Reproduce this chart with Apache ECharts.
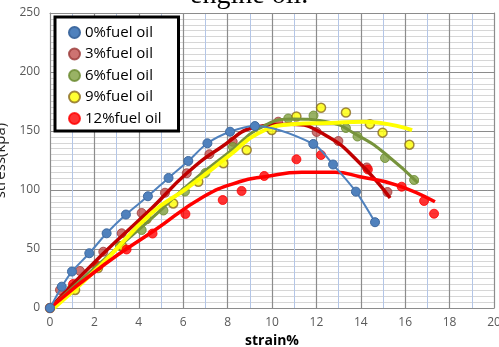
<!DOCTYPE html>
<html><head><meta charset="utf-8">
<script src="https://cdn.jsdelivr.net/npm/echarts@6/dist/echarts.min.js"></script>
<style>html,body{margin:0;padding:0;background:#fff}#c{width:499px;height:347px}</style>
</head><body><div id="c"></div>
<script>
// Measured points (strain %, stress kPa)
const names = ['0%fuel oil','3%fuel oil','6%fuel oil','9%fuel oil','12%fuel oil'];
const xTicks = [0,2,4,6,8,10,12,14,16,18,20];
const yTicks = [0,50,100,150,200,250];

const s0x = [0,0.53,0.99,1.77,2.55,3.42,4.41,5.34,6.23,7.09,8.11,9.23,11.86,12.75,13.78,14.64];
const s0y = [0,18.1,30.9,46.4,63.3,79.2,94.7,110.2,124.6,139.6,149.4,154.2,139.0,121.6,98.6,72.7];

const s3x = [0,0.45,1.35,2.40,3.23,4.13,5.18,6.16,7.18,8.23,10.28,12.01,12.99,14.27,15.20];
const s3y = [0,15.3,31.4,47.7,63.3,80.5,97.7,114.2,130.3,140.9,157.9,149.2,141.5,119.1,98.3];

const s6x = [0,0.99,2.07,3.15,4.13,5.11,6.08,7.00,8.24,10.73,11.87,13.33,13.85,15.09,16.40];
const s6y = [0,16.9,35.6,52.5,66.1,82.6,98.7,114.4,136.4,160.6,163.1,152.5,145.3,127.1,108.5];

const s9x = [0,1.13,2.16,3.24,4.35,5.55,6.68,7.81,8.86,9.99,11.10,12.21,13.33,14.41,14.98,16.19];
const s9y = [0,15.3,33.9,52.5,75.4,88.6,107.0,122.6,133.9,150.8,162.3,169.7,165.7,155.8,148.6,138.4];

const s12x = [0,1.04,2.16,3.45,4.62,6.10,7.78,8.63,9.65,11.10,12.21,14.32,15.84,16.85,17.30];
const s12y = [0,20.3,35.6,49.6,63.1,79.7,91.5,99.2,111.9,126.0,129.7,117.4,102.8,90.7,79.9];

// Trend curves
const t3x = [0,2.33,4.58,6.16,7.66,9.38,10.89,12.39,13.89,15.32];
const t3y = [0,44.9,84.5,114.2,135.6,153.6,155.7,146.6,124.0,93.2];
const t6x = [0,2.25,4.50,6.31,8.20,9.37,10.89,12.39,13.96,15.17,16.58];
const t6y = [0,38.1,74.6,105.9,133.9,151.7,160.2,158.1,145.2,129.7,105.9];
const t9x = [0.18,2.25,4.58,6.16,8.11,9.38,10.89,12.61,14.11,16.31];
const t9y = [0,35.6,80.5,101.4,129.7,148.1,155.7,156.8,157.9,150.8];
const t12x = [0,2.48,4.73,6.91,8.53,9.68,11.34,12.84,13.96,15.62,17.34];
const t12y = [0,37.3,66.1,94.3,107.0,111.3,115.0,115.0,111.3,104.2,90.1];

const pair = (xs, ys) => xs.map((x, i) => [x, ys[i]]);

const fill = ['#4f81bd','#c0504d','#7f9f3f','#ffff00','#ff0000'];
const edge = ['#3f6aa0','#9a3a38','#6a8a30','#8a6a20','#ff0000'];
const lineCol = ['#4f81bd','#c00000','#77933c','#ffff00','#ff0000'];
const pts = [pair(s0x,s0y), pair(s3x,s3y), pair(s6x,s6y), pair(s9x,s9y), pair(s12x,s12y)];
const trends = [null, pair(t3x,t3y), pair(t6x,t6y), pair(t9x,t9y), pair(t12x,t12y)];

const series = [];
series.push({
  name: names[0], type: 'line', data: pts[0], smooth: 0.3,
  symbol: 'circle', symbolSize: 9,
  lineStyle: {color: lineCol[0], width: 2},
  itemStyle: {color: fill[0], borderColor: edge[0], borderWidth: 1},
  z: 5
});
for (let i = 1; i < 5; i++) {
  series.push({
    name: names[i], type: 'scatter', data: pts[i], symbol: 'circle', symbolSize: 9,
    itemStyle: {color: fill[i], borderColor: edge[i], borderWidth: i === 3 ? 1.5 : 1},
    z: 3
  });
}
const tw = [0, 3.5, 3, 4, 3.5];
for (let i = 1; i < 5; i++) {
  series.push({
    name: 'trend' + i, type: 'line', data: trends[i], smooth: 0.5, symbol: 'none',
    lineStyle: {color: lineCol[i], width: tw[i]}, z: 4, silent: true
  });
}

const noLab = {show: false};
const chart = echarts.init(document.getElementById('c'), null, {renderer: 'canvas'});
chart.setOption({
  animation: false,
  backgroundColor: '#fff',
  grid: {left: 50, right: 5, top: 13, bottom: 39, outerBoundsMode: 'none'},
  graphic: [{
    type: 'text', left: 190, top: -18,
    style: {text: 'engine oil.', font: '28px "Liberation Serif"', fill: '#000'}
  }],
  legend: {
    data: names, orient: 'vertical', left: 55, top: 17,
    backgroundColor: '#fff', borderColor: '#000', borderWidth: 3,
    padding: [7, 17, 4, 13], itemGap: 4.5, itemWidth: 11, itemHeight: 11,
    icon: 'circle',
    textStyle: {fontFamily: 'Open Sans', fontSize: 15, color: '#000', lineHeight: 17}
  },
  xAxis: [{
    type: 'value', min: 0, max: 20, interval: 2,
    name: 'strain%', nameLocation: 'middle', nameGap: 19,
    nameTextStyle: {fontFamily: 'Open Sans', fontWeight: 'bold', fontSize: 14, color: '#000'},
    axisLine: {show: true, lineStyle: {color: '#8c8c8c'}},
    axisTick: {show: false},
    axisLabel: {fontFamily: 'Open Sans', fontSize: 12, color: '#595959', margin: 9,
      formatter: v => xTicks.includes(v) ? String(v) : ''},
    splitLine: {show: true, lineStyle: {color: '#8c8c8c', width: 1.2}},
    minorTick: {show: false, splitNumber: 2},
    minorSplitLine: {show: true, lineStyle: {color: '#b4c6e7', width: 1}}
  }, {
    type: 'value', min: 0, max: 20, interval: 2, position: 'top',
    axisLine: {show: true, onZero: false, lineStyle: {color: '#8c8c8c'}},
    axisTick: {show: false}, axisLabel: noLab, splitLine: {show: false}
  }],
  yAxis: [{
    type: 'value', min: 0, max: 250, interval: 50,
    name: 'stress(kpa)', nameLocation: 'middle', nameGap: 20, nameRotate: 90,
    nameTextStyle: {fontFamily: 'Open Sans', fontSize: 15, color: '#222'},
    axisLine: {show: true, lineStyle: {color: '#8c8c8c'}},
    axisTick: {show: false},
    axisLabel: {fontFamily: 'Open Sans', fontSize: 12, color: '#595959', margin: 10,
      formatter: v => yTicks.includes(v) ? String(v) : ''},
    splitLine: {show: true, lineStyle: {color: '#8c8c8c', width: 1.2}},
    minorTick: {show: false, splitNumber: 10},
    minorSplitLine: {show: true, lineStyle: {color: '#d6d6d6', width: 1}}
  }, {
    type: 'value', min: 0, max: 250, interval: 50, position: 'right',
    axisLine: {show: true, onZero: false, lineStyle: {color: '#8c8c8c'}},
    axisTick: {show: false}, axisLabel: noLab, splitLine: {show: false}
  }],
  series: series
});
</script>
</body></html>
